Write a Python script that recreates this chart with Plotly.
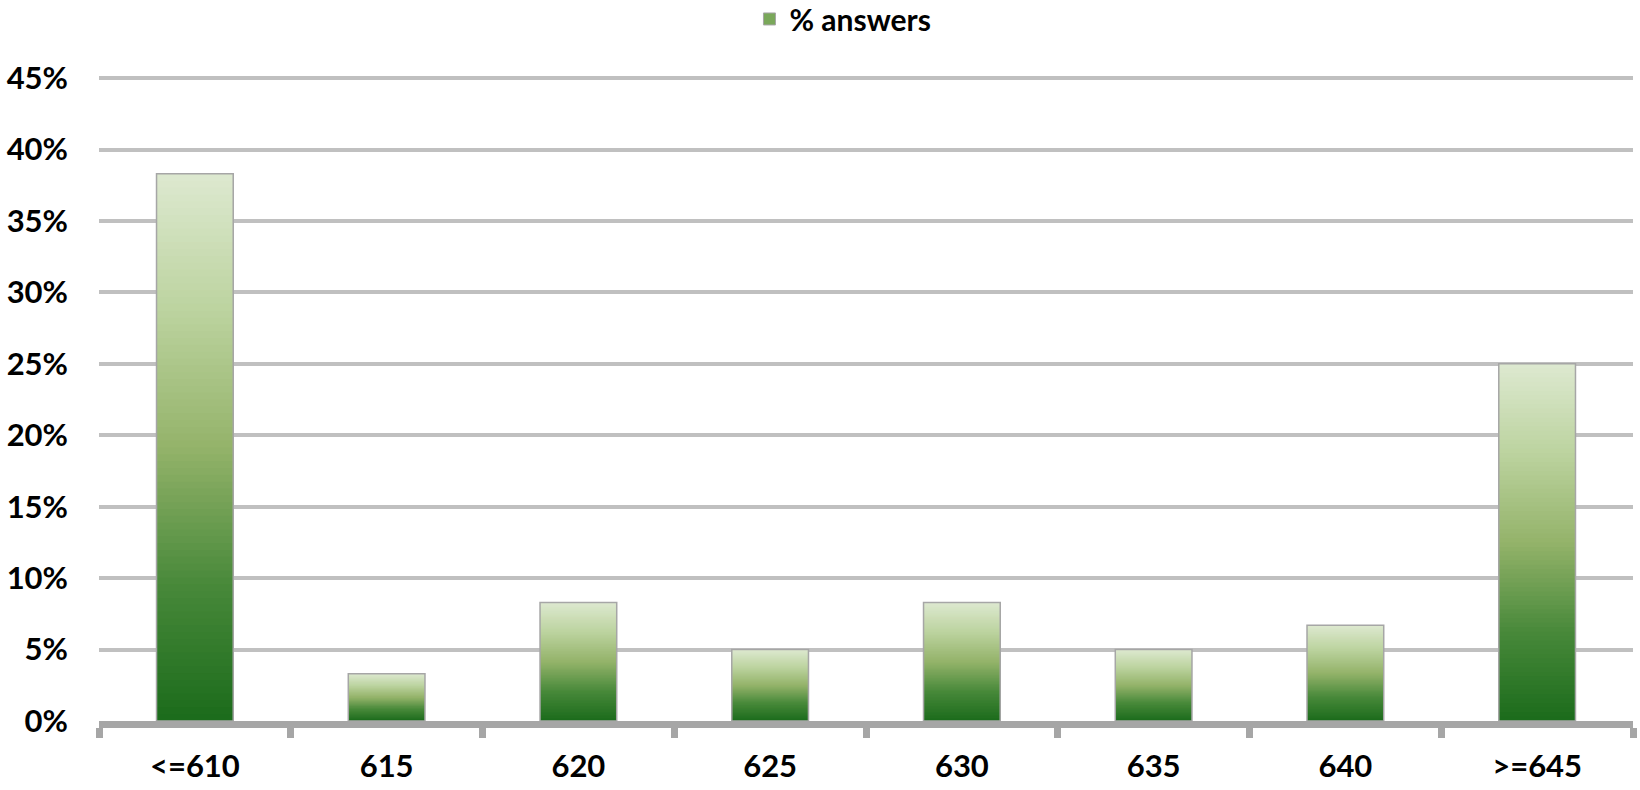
import plotly.graph_objects as go

categories = ["<=610", "615", "620", "625", "630", "635", "640", ">=645"]
answers_pct = [38.3, 3.3, 8.3, 5.0, 8.3, 5.0, 6.7, 25.0]
y_ticks = [0, 5, 10, 15, 20, 25, 30, 35, 40, 45]
y_tick_labels = [f"{t}%" for t in y_ticks]

# vertical gradient stops (bottom -> top), roughly like the Excel fill
grad_stops = [
    (0.0, (27, 107, 27)),
    (0.25, (72, 137, 58)),
    (0.5, (148, 179, 106)),
    (0.75, (188, 211, 159)),
    (1.0, (221, 233, 208)),
]


def grad_color(t):
    for (t0, c0), (t1, c1) in zip(grad_stops, grad_stops[1:]):
        if t <= t1:
            f = (t - t0) / (t1 - t0)
            r, g, b = (round(a + (b_ - a) * f) for a, b_ in zip(c0, c1))
            return f"rgb({r},{g},{b})"
    return "rgb(221,233,208)"


N_SEG = 80
BAR_W = 0.4
font = "Lato, 'Open Sans', Arial, sans-serif"

fig = go.Figure()

# each bar = nested bars from 0, tallest (lightest top) first, so the
# visible bands give a bottom-to-top gradient per bar without seams
for j in range(N_SEG):
    frac = (N_SEG - j) / N_SEG
    fig.add_trace(go.Bar(
        x=categories,
        y=[v * frac for v in answers_pct],
        width=BAR_W,
        marker=dict(color=grad_color(frac - 0.5 / N_SEG), line=dict(width=0)),
        showlegend=False,
        hoverinfo="skip",
    ))

# outline
fig.add_trace(go.Bar(
    x=categories,
    y=answers_pct,
    width=BAR_W,
    name="% answers",
    marker=dict(color="rgba(0,0,0,0)", line=dict(color="#a6a6a6", width=1.5)),
    showlegend=False,
))
# legend entry
fig.add_trace(go.Bar(
    x=[None], y=[None],
    name="% answers",
    marker=dict(color="#7aa85a", line=dict(color="#a6a6a6", width=1)),
))

fig.update_layout(
    width=1640,
    height=790,
    barmode="overlay",
    plot_bgcolor="white",
    paper_bgcolor="white",
    margin=dict(l=99, r=7, t=76, b=69, autoexpand=False),
    font=dict(family=font, size=30, color="black"),
    legend=dict(
        orientation="h",
        x=0.514, xanchor="center", xref="container",
        y=0.976, yanchor="middle", yref="container",
        font=dict(family=font, size=30, color="black", weight="bold"),
        itemwidth=30,
        tracegroupgap=0,
    ),
    xaxis=dict(
        type="category",
        showgrid=False,
        showline=True,
        linecolor="#a6a6a6",
        linewidth=7,
        ticks="outside",
        tickson="boundaries",
        ticklen=10,
        tickwidth=7,
        tickcolor="#a6a6a6",
        tickfont=dict(family=font, size=31, color="black", weight="bold"),
        ticklabelstandoff=12,
        range=[-0.5, 7.5],
    ),
    yaxis=dict(
        range=[0, 45.15],
        tickvals=y_ticks,
        ticktext=y_tick_labels,
        showgrid=True,
        gridcolor="#c0c0c0",
        gridwidth=4,
        zeroline=False,
        showline=False,
        ticks="",
        tickfont=dict(family=font, size=31, color="black", weight="bold"),
        ticklabelstandoff=30,
    ),
)

fig.write_html(
    "out.html",
    config={"displayModeBar": False},
    post_script="document.body.style.margin='0';",
)
